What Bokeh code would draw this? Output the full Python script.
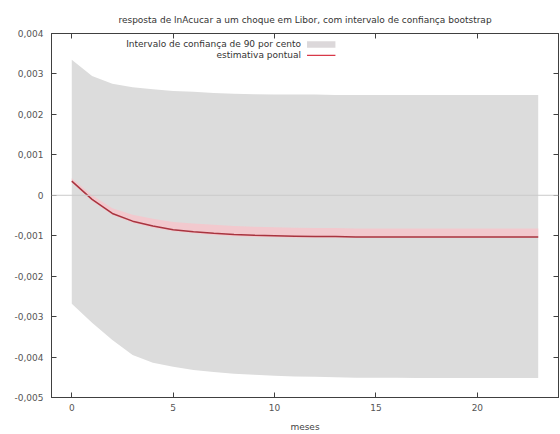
from bokeh.plotting import figure
from bokeh.models import Range1d, FixedTicker, LinearAxis, Span, Label, BoxAnnotation
from bokeh.embed import file_html
from bokeh.resources import INLINE

# ---- data ----
meses = list(range(24))
estimativa = [0.00035, -0.00010, -0.00045, -0.00064, -0.00076, -0.00085, -0.00090, -0.00094,
              -0.00097, -0.00099, -0.00100, -0.00101, -0.00102, -0.00102, -0.00103, -0.00103,
              -0.00103, -0.00103, -0.00103, -0.00103, -0.00103, -0.00103, -0.00103, -0.00103]
ic_superior = [0.00335, 0.00295, 0.00276, 0.00267, 0.00262, 0.00258, 0.00256, 0.00253,
               0.00251, 0.00250, 0.00249, 0.00249, 0.00249, 0.00248, 0.00248, 0.00248,
               0.00248, 0.00248, 0.00248, 0.00248, 0.00248, 0.00248, 0.00248, 0.00248]
ic_inferior = [-0.00268, -0.00315, -0.00358, -0.00395, -0.00414, -0.00424, -0.00432, -0.00437,
               -0.00441, -0.00444, -0.00446, -0.00448, -0.00449, -0.00450, -0.00451, -0.00451,
               -0.00451, -0.00452, -0.00452, -0.00452, -0.00452, -0.00452, -0.00452, -0.00452]
banda_superior = [0.00042, 0.00000, -0.00032, -0.00048, -0.00058, -0.00066, -0.00070, -0.00073,
                  -0.00076, -0.00078, -0.00079, -0.00080, -0.00081, -0.00081, -0.00082, -0.00082,
                  -0.00082, -0.00082, -0.00082, -0.00082, -0.00082, -0.00082, -0.00082, -0.00082]
banda_inferior = [0.00031, -0.00014, -0.00049, -0.00068, -0.00080, -0.00089, -0.00094, -0.00098,
                  -0.00101, -0.00103, -0.00104, -0.00105, -0.00105, -0.00105, -0.00105, -0.00105,
                  -0.00105, -0.00105, -0.00105, -0.00105, -0.00105, -0.00105, -0.00105, -0.00105]

x_ticks = [0, 5, 10, 15, 20]
y_ticks = [0.004, 0.003, 0.002, 0.001, 0.0, -0.001, -0.002, -0.003, -0.004, -0.005]
y_tick_labels = ["0,004", "0,003", "0,002", "0,001", "0", "-0,001", "-0,002", "-0,003", "-0,004", "-0,005"]
titulo = "resposta de lnAcucar a um choque em Libor, com intervalo de confiança bootstrap"
legenda_ic = "Intervalo de confiança de 90 por cento"
legenda_est = "estimativa pontual"
x_rotulo = "meses"

FONT = "DejaVu Sans"
FS = "9px"
AX = "#404040"

p = figure(width=560, height=434, output_backend="svg", toolbar_location=None,
           x_range=Range1d(-1, 24), y_range=Range1d(-0.005, 0.004),
           min_border_left=51, min_border_right=2, min_border_top=33, min_border_bottom=35)

p.title.text = titulo
p.title.text_font = FONT
p.title.text_font_size = FS
p.title.text_font_style = "normal"
p.title.text_color = "#333333"
p.title.align = "center"
p.title.standoff = 17

p.grid.visible = False
p.background_fill_color = "white"
p.border_fill_color = "white"
p.outline_line_color = AX
p.outline_line_width = 1

for ax in (p.xaxis[0], p.yaxis[0]):
    ax.major_tick_in = 5
    ax.major_tick_out = 0
    ax.minor_tick_line_color = None
    ax.axis_line_color = AX
    ax.major_tick_line_color = AX
    ax.major_label_text_font = FONT
    ax.major_label_text_font_size = FS
    ax.major_label_text_color = "#555555"

p.xaxis[0].ticker = FixedTicker(ticks=x_ticks)
p.xaxis[0].major_label_standoff = 6
p.xaxis[0].axis_label = x_rotulo
p.xaxis[0].axis_label_text_font = FONT
p.xaxis[0].axis_label_text_font_size = FS
p.xaxis[0].axis_label_text_font_style = "normal"
p.xaxis[0].axis_label_text_color = "#444444"
p.xaxis[0].axis_label_standoff = 8

p.yaxis[0].ticker = FixedTicker(ticks=y_ticks)
p.yaxis[0].major_label_overrides = {t: l for t, l in zip(y_ticks, y_tick_labels)}
p.yaxis[0].major_label_standoff = 8

# mirrored ticks (top and right), no labels drawn
ra = LinearAxis(ticker=FixedTicker(ticks=y_ticks), major_tick_in=5, major_tick_out=0,
                minor_tick_line_color=None, major_label_text_font_size="1px",
                major_label_text_color=None, major_label_standoff=0,
                axis_line_color=AX, major_tick_line_color=AX)
ta = LinearAxis(ticker=FixedTicker(ticks=x_ticks), major_tick_in=5, major_tick_out=0,
                minor_tick_line_color=None, major_label_text_font_size="1px",
                major_label_text_color=None, major_label_standoff=0,
                axis_line_color=AX, major_tick_line_color=AX)
p.add_layout(ra, "right")
p.add_layout(ta, "above")

# confidence band
p.varea(x=meses, y1=ic_inferior, y2=ic_superior, fill_color="#dcdcdc", fill_alpha=1.0)
# zero line
p.add_layout(Span(location=0, dimension="width", line_color="#cacaca", line_width=1))
# pink band around the estimate
p.varea(x=meses, y1=banda_inferior, y2=banda_superior, fill_color="#f2c9ce", fill_alpha=1.0)
# point estimate
p.line(x=meses, y=estimativa, line_color="#a8343f", line_width=1.5)

# legend (gnuplot style: text then sample)
leg_x_text = 11.3
leg_y1 = 0.00373
leg_y2 = 0.00346
p.add_layout(Label(x=leg_x_text, y=leg_y1, text=legenda_ic, text_align="right",
                   text_baseline="middle", text_font=FONT, text_font_size=FS, text_color="#333333"))
p.add_layout(Label(x=leg_x_text, y=leg_y2, text=legenda_est, text_align="right",
                   text_baseline="middle", text_font=FONT, text_font_size=FS, text_color="#333333"))
p.add_layout(BoxAnnotation(left=11.6, right=13.0, bottom=0.00365, top=0.00381,
                           fill_color="#dcd8da", fill_alpha=1.0, line_color=None))
p.add_layout(BoxAnnotation(left=11.6, right=13.0, bottom=0.003445, top=0.003475,
                           fill_color="#d83848", fill_alpha=1.0, line_color=None))

open("out.html", "w").write(file_html(p, INLINE))
